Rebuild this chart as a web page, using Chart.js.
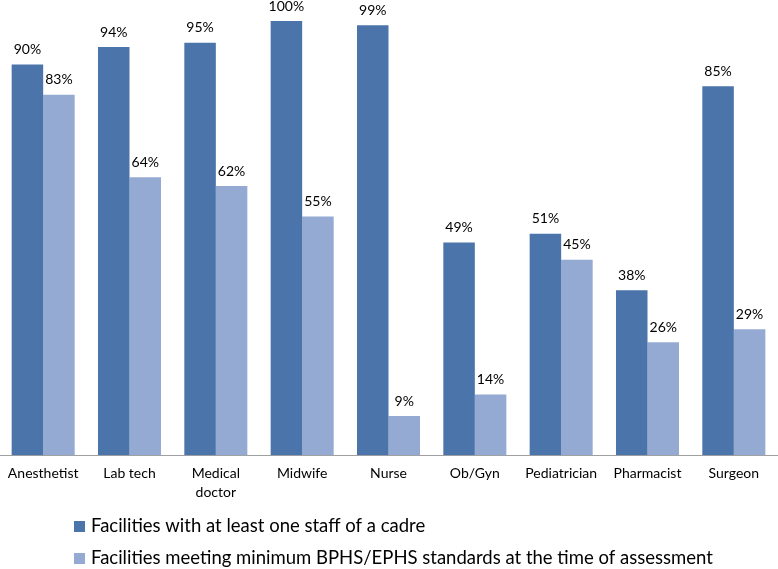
<!DOCTYPE html>
<html>
<head>
<meta charset="utf-8">
<script src="https://cdn.jsdelivr.net/npm/chart.js@4/dist/chart.umd.min.js"></script>
<style>
  html, body { margin: 0; padding: 0; background: #fff; }
  #wrap { width: 778px; height: 569px; }
</style>
</head>
<body>
<div id="wrap"><canvas id="canvas"></canvas></div>
<script>
// values
const cadres = ['Anesthetist', 'Lab tech', ['Medical', 'doctor'], 'Midwife', 'Nurse', 'Ob/Gyn', 'Pediatrician', 'Pharmacist', 'Surgeon'];
const withStaff = [90, 94, 95, 100, 99, 49, 51, 38, 85];
const meetingStandards = [83, 64, 62, 55, 9, 14, 45, 26, 29];
const seriesNames = [
    'Facilities with at least one staff of a cadre',
    'Facilities meeting minimum BPHS/EPHS standards at the time of assessment'
];

const FONT = 'Lato, "Open Sans", sans-serif';

// percent labels on top of each bar
const barLabels = {
    id: 'barLabels',
    afterDatasetsDraw(chart) {
        const ctx = chart.ctx;
        ctx.save();
        ctx.font = '14px ' + FONT;
        ctx.fillStyle = '#000';
        ctx.textAlign = 'center';
        ctx.textBaseline = 'middle';
        chart.data.datasets.forEach(function (ds, i) {
            chart.getDatasetMeta(i).data.forEach(function (bar, j) {
                ctx.fillText(ds.data[j] + '%', bar.x, bar.y - 15);
            });
        });
        ctx.restore();
    }
};

// stacked legend, left aligned like the original
const stackedLegend = {
    id: 'stackedLegend',
    afterDraw(chart) {
        const ctx = chart.ctx;
        ctx.save();
        ctx.font = '18.5px ' + FONT;
        ctx.textBaseline = 'middle';
        chart.data.datasets.forEach(function (ds, i) {
            const y = 526 + i * 32;
            ctx.fillStyle = ds.backgroundColor;
            ctx.fillRect(74, y - 5, 11, 11);
            ctx.fillStyle = '#000';
            ctx.fillText(ds.label, 91, y);
        });
        ctx.restore();
    }
};

let ctx = document.getElementById('canvas').getContext('2d');
const mychart = new Chart(ctx, {
    type: 'bar',
    data: {
        labels: cadres,
        datasets: [{
            label: seriesNames[0],
            data: withStaff,
            backgroundColor: '#4a74aa'
        }, {
            label: seriesNames[1],
            data: meetingStandards,
            backgroundColor: '#94aad2'
        }]
    },
    options: {
        responsive: true,
        maintainAspectRatio: false,
        animation: false,
        layout: { padding: { top: 21, left: 0, right: 1, bottom: 67 } },
        plugins: {
            legend: { display: false },
            tooltip: { enabled: false }
        },
        datasets: {
            bar: { categoryPercentage: 0.73, barPercentage: 1 }
        },
        scales: {
            x: {
                grid: { display: false },
                border: { display: true, color: '#a0a0a0', width: 1 },
                ticks: {
                    color: '#000',
                    font: { family: FONT, size: 14, lineHeight: 1.35 },
                    maxRotation: 0,
                    autoSkip: false,
                    padding: 0.5
                }
            },
            y: {
                display: false,
                min: 0,
                max: 100
            }
        }
    },
    plugins: [barLabels, stackedLegend]
});
</script>
</body>
</html>
